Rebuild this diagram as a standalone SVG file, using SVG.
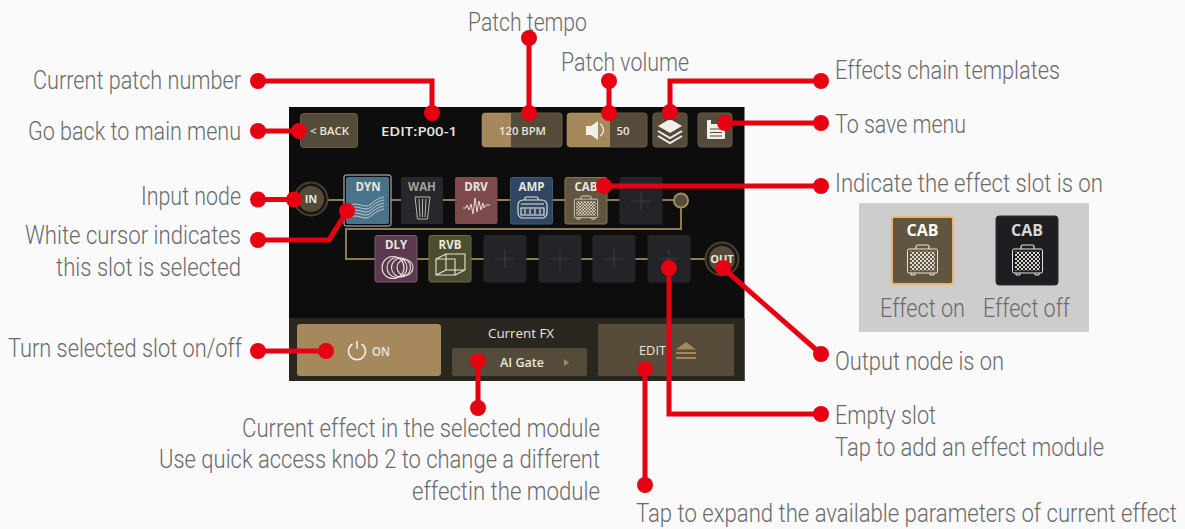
<svg xmlns="http://www.w3.org/2000/svg" width="1185" height="529" viewBox="0 0 1185 529">
<style>
.lb{font-family:Roboto,"Liberation Sans",sans-serif;font-weight:300;font-size:26px;fill:#6a6a6a}
.ui{font-family:"Open Sans","Noto Sans","Liberation Sans",sans-serif;font-weight:600;fill:#e9e6df}
.sl{font-size:11.5px;text-anchor:middle;font-weight:700}
.btn{fill:#544b3a;stroke:#6b5c43;stroke-width:1}
.lit{fill:#a5895c}
.wire{fill:none;stroke:#8f7b55;stroke-width:2}
.red{fill:none;stroke:#e60012;stroke-width:5}
.dot{fill:#e60012}
.ic{fill:none;stroke:#e8e4dc;stroke-width:1.1}
.pl{stroke:#3a3b40;stroke-width:1.2;fill:none}
.empty{fill:#232428;stroke:#26272b}
</style>
<defs>
<pattern id="lat" width="4" height="4" patternUnits="userSpaceOnUse">
<path d="M0 2L2 0L4 2L2 4Z" fill="none" stroke="#ece8e0" stroke-width=".9"/>
</pattern>
<symbol id="cab" viewBox="0 0 31 31" overflow="visible">
<path d="M9 4V1.5Q9 0 11 0H20Q22 0 22 1.5V4" fill="none" stroke="#e8e4dc" stroke-width="1.2"/>
<rect x=".5" y="4" width="30" height="24" rx="1.5" fill="none" stroke="#e8e4dc" stroke-width="1"/>
<rect x="3" y="6.500" width="25" height="19" fill="url(#lat)"/>
<path d="M4 28v2h4v-2M23 28v2h4v-2" fill="none" stroke="#e8e4dc" stroke-width="1"/>
</symbol>
</defs>
<rect id="background" width="1185" height="529" fill="#fafafa"/>
<g id="screen">
<rect x="289" y="107" width="455.500" height="274" fill="#0c0d0c"/>
<rect x="289" y="318" width="455.500" height="63" fill="#2a2721"/>
</g>
<g id="chain-wires">
<path class="wire" d="M326 200H674M681 208V229H346V259H707"/>
</g>
<g id="btn-back">
<rect class="btn" x="300.500" y="113.500" width="57" height="34" rx="3"/>
<text class="ui" x="310" y="135" font-size="10.500" textLength="39" lengthAdjust="spacingAndGlyphs">&lt; BACK</text>
</g>
<g id="patch-number">
<text class="ui" x="381" y="135.500" font-size="12.500" textLength="76" lengthAdjust="spacingAndGlyphs">EDIT:P00-1</text>
</g>
<g id="btn-tempo">
<rect class="btn" x="482" y="113" width="80" height="34" rx="3" stroke="none"/>
<path class="lit" d="M511 113H485a3 3 0 0 0-3 3V144a3 3 0 0 0 3 3H511Z"/>
<text class="ui" x="499" y="135" font-size="11.500" textLength="47" lengthAdjust="spacingAndGlyphs">120 BPM</text>
</g>
<g id="btn-volume">
<rect class="btn" x="567" y="113" width="80" height="34" rx="3"/>
<path class="lit" d="M610 113H570a3 3 0 0 0-3 3V144a3 3 0 0 0 3 3H610Z"/>
<path d="M586 126h5l7-5v19l-7-5h-5Z" fill="#f2efe8"/>
<path d="M600 124a7 7 0 0 1 0 12" fill="none" stroke="#f2efe8" stroke-width="1.300"/>
<text class="ui" x="623" y="135" font-size="11.500" text-anchor="middle">50</text>
</g>
<g id="btn-templates">
<rect class="btn" x="653" y="113" width="34" height="34" rx="3"/>
<path d="M670 119l12 7-12 7-12-7Z" fill="#f2efe8"/>
<path d="M658 131l12 7 12-7M658 136l12 7 12-7" fill="none" stroke="#f2efe8" stroke-width="2"/>
</g>
<g id="btn-save">
<rect class="btn" x="698" y="113" width="34" height="34" rx="3"/>
<path d="M708 120h12l5 4v14a1 1 0 0 1-1 1h-16a1 1 0 0 1-1-1v-17a1 1 0 0 1 1-1Z" fill="#f2efe8"/>
<path d="M710 129h12M710 132.500h12M710 136h12" stroke="#544b3a" stroke-width="1"/>
<rect x="711" y="120" width="7" height="4" fill="#544b3a"/>
</g>
<g id="node-in">
<circle cx="311" cy="199" r="16.500" fill="#1a1712" stroke="#4a4030" stroke-width="2"/>
<circle cx="311" cy="199" r="13" fill="#544b3a"/>
<text class="ui" x="311" y="203" font-size="11" text-anchor="middle" style="font-weight:700">IN</text>
</g>
<g id="slot-dyn">
<rect x="344" y="175" width="47" height="51" rx="2" fill="#0c0d0c" stroke="#c8ccca" stroke-width="1"/>
<rect x="346" y="177" width="43" height="47" rx="2" fill="#4a7288"/>
<text class="ui sl" x="368" y="191">DYN</text>
<path d="M349 206c9-6 15 4 22-2s9-6 13-7M349 209c9-6 15 4 22-2s9-6 13-7M349 212c9-6 15 4 22-2s9-6 13-7M349 215c9-6 15 4 22-2s9-6 13-7M349 218c9-6 15 4 22-2s9-6 13-7" fill="none" stroke="#d5e2e8" stroke-width=".8"/>
</g>
<g id="slot-wah">
<rect x="401" y="177" width="42" height="47" rx="2" fill="#28282c"/>
<text class="ui sl" x="422" y="191" style="fill:#a3a19c">WAH</text>
<path d="M415 197h15l-2.500 22h-10ZM419 199l1 18M422.500 199v18M426 199l-1 18" fill="none" stroke="#b8b6b2" stroke-width="1"/>
</g>
<g id="slot-drv">
<rect x="455" y="177" width="42.500" height="47" rx="2" fill="#7d4b4c"/>
<text class="ui sl" x="476" y="191">DRV</text>
<path d="M463 208h3l1-3 2 5 2-6 2 10 2-16 2 14 2-11 2 9 2-7 1 5 2-3h4" fill="none" stroke="#f0e6e6" stroke-width=".9"/>
</g>
<g id="slot-amp">
<rect x="510.500" y="177.500" width="42" height="46.500" rx="2" fill="#2f4763" stroke="#3e5b7d"/>
<text class="ui sl" x="531.500" y="191">AMP</text>
<path class="ic" d="M525 200v-2q0-1 1-1h11q1 0 1 1v2"/>
<rect class="ic" x="518" y="200" width="29" height="18" rx="5"/>
<rect class="ic" x="521" y="208" width="23" height="7"/>
<path class="ic" d="M521 204h23M525 209v5M530 209v5M535 209v5M540 209v5"/>
</g>
<g id="slot-cab">
<rect x="565" y="177.500" width="42" height="46.500" rx="2" fill="#62553f" stroke="#8b7754"/>
<text class="ui sl" x="586" y="191">CAB</text>
<use href="#cab" x="574" y="196" width="24" height="24"/>
</g>
<g id="slot-empty-1">
<rect class="empty" x="620" y="177.500" width="42" height="46.500" rx="2"/>
<path class="pl" d="M641 192v18M631 201h20"/>
</g>
<g id="chain-end">
<circle cx="681" cy="200.500" r="7" fill="#544b3a" stroke="#a5895c" stroke-width="2"/>
</g>
<g id="slot-dly">
<rect x="375" y="235.500" width="42" height="46.500" rx="2" fill="#5b3a50" stroke="#7d5a72"/>
<text class="ui sl" x="396" y="249">DLY</text>
<circle class="ic" cx="393" cy="267.500" r="11"/><circle class="ic" cx="397" cy="267.500" r="10"/><circle class="ic" cx="401" cy="267.500" r="9.500"/><circle class="ic" cx="405" cy="267.500" r="8"/>
</g>
<g id="slot-rvb">
<rect x="429" y="235.500" width="42" height="46.500" rx="2" fill="#4d4d30" stroke="#6a6b40"/>
<text class="ui sl" x="450" y="249">RVB</text>
<path class="ic" d="M436 259h19v16h-19ZM436 259l10-5h19v16l-10 5M446 254v16h19M446 270l-10 5"/>
</g>
<g id="slot-empty-2"><rect class="empty" x="484" y="235.500" width="42" height="46.500" rx="2"/><path class="pl" d="M505 250v18M495 259h20"/></g>
<g id="slot-empty-3"><rect class="empty" x="539" y="235.500" width="42" height="46.500" rx="2"/><path class="pl" d="M560 250v18M550 259h20"/></g>
<g id="slot-empty-4"><rect class="empty" x="593" y="235.500" width="42" height="46.500" rx="2"/><path class="pl" d="M614 250v18M604 259h20"/></g>
<g id="slot-empty-5"><rect class="empty" x="648" y="235.500" width="42" height="46.500" rx="2"/><path class="pl" d="M669 250v18M659 259h20"/></g>
<g id="node-out">
<circle cx="722" cy="259" r="16.500" fill="#1a1712" stroke="#4a4030" stroke-width="2"/>
<circle cx="722" cy="259" r="13" fill="#544b3a"/>
<text class="ui" x="722" y="263" font-size="11" text-anchor="middle" style="font-weight:700">OUT</text>
</g>
<g id="btn-on">
<rect class="lit" x="297" y="324" width="144" height="52" rx="3"/>
<path d="M352.500 344a8.500 8.500 0 1 0 9 0M357 341v8" fill="none" stroke="#f2efe8" stroke-width="1.500"/>
<text class="ui" x="372" y="355.500" font-size="12.500" textLength="18" lengthAdjust="spacingAndGlyphs">ON</text>
</g>
<g id="current-fx">
<text class="ui" x="488" y="338" font-size="12.500" textLength="66" lengthAdjust="spacingAndGlyphs" style="font-weight:400">Current FX</text>
<rect x="452" y="348" width="135" height="28" rx="2" fill="#544b3a"/>
<text class="ui" x="500" y="366.500" font-size="12.500" textLength="44" lengthAdjust="spacingAndGlyphs">AI Gate</text>
<path class="lit" d="M564 359l5 3.500-5 3.500Z"/>
</g>
<g id="btn-edit">
<rect x="598" y="324" width="136" height="52" rx="2" fill="#574c3a"/>
<text class="ui" x="639" y="355" font-size="12.500" textLength="27" lengthAdjust="spacingAndGlyphs" style="font-weight:400">EDIT</text>
<path class="lit" d="M686 342l10 7.500h-20ZM676 352h20v2h-20ZM676 357h20v2h-20Z"/>
</g>
<g id="legend">
<rect x="859" y="203" width="230" height="129" fill="#cdcdcd"/>
<rect x="892" y="217" width="61" height="67" rx="2" fill="#62553f" stroke="#e9b570" stroke-width="2"/>
<text class="ui" x="922.500" y="236" font-size="16" text-anchor="middle" style="fill:#fff;font-weight:700">CAB</text>
<use href="#cab" x="907" y="245" width="31" height="31"/>
<rect x="996" y="216" width="62" height="69" rx="3" fill="#1e1e22" stroke="#303035" stroke-width="1"/>
<text class="ui" x="1027" y="236" font-size="16" text-anchor="middle" style="fill:#d8d8d8;font-weight:700">CAB</text>
<use href="#cab" x="1012" y="245" width="31" height="31"/>
<text class="lb" x="880" y="317" textLength="85" lengthAdjust="spacingAndGlyphs">Effect on</text>
<text class="lb" x="983" y="317" textLength="87" lengthAdjust="spacingAndGlyphs">Effect off</text>
</g>
<g id="labels">
<text class="lb" x="468" y="31" textLength="119" lengthAdjust="spacingAndGlyphs">Patch tempo</text>
<text class="lb" x="561" y="71" textLength="128" lengthAdjust="spacingAndGlyphs">Patch volume</text>
<text class="lb" x="33" y="88.500" textLength="208" lengthAdjust="spacingAndGlyphs">Current patch number</text>
<text class="lb" x="28" y="139.500" textLength="213" lengthAdjust="spacingAndGlyphs">Go back to main menu</text>
<text class="lb" x="835" y="79" textLength="225" lengthAdjust="spacingAndGlyphs">Effects chain templates</text>
<text class="lb" x="835" y="133" textLength="131" lengthAdjust="spacingAndGlyphs">To save menu</text>
<text class="lb" x="835" y="192" textLength="268" lengthAdjust="spacingAndGlyphs">Indicate the effect slot is on</text>
<text class="lb" x="141" y="205" textLength="100" lengthAdjust="spacingAndGlyphs">Input node</text>
<text class="lb" x="25" y="243.500" textLength="216" lengthAdjust="spacingAndGlyphs">White cursor indicates</text>
<text class="lb" x="56" y="275.500" textLength="185" lengthAdjust="spacingAndGlyphs">this slot is selected</text>
<text class="lb" x="8" y="357" textLength="234" lengthAdjust="spacingAndGlyphs">Turn selected slot on/off</text>
<text class="lb" x="242" y="437" textLength="358" lengthAdjust="spacingAndGlyphs">Current effect in the selected module</text>
<text class="lb" x="159" y="468" textLength="441" lengthAdjust="spacingAndGlyphs">Use quick access knob 2 to change a different</text>
<text class="lb" x="412" y="500" textLength="188" lengthAdjust="spacingAndGlyphs">effectin the module</text>
<text class="lb" x="835" y="370" textLength="169" lengthAdjust="spacingAndGlyphs">Output node is on</text>
<text class="lb" x="835" y="424" textLength="101" lengthAdjust="spacingAndGlyphs">Empty slot</text>
<text class="lb" x="835" y="456" textLength="269" lengthAdjust="spacingAndGlyphs">Tap to add an effect module</text>
<text class="lb" transform="translate(636 522) scale(.852 1)">Tap to expand the available parameters of current effect</text>
</g>
<g id="connectors">
<path class="red" d="M258 81H432V113"/>
<path class="red" d="M258 131H299"/>
<path class="red" d="M529 38V113"/>
<path class="red" d="M609 81V113"/>
<path class="red" d="M670 112V81H821"/>
<path class="red" d="M725 123H821"/>
<path class="red" d="M604 186H821"/>
<path class="red" d="M258 199.500H294"/>
<path class="red" d="M258 240H329L347 211"/>
<path class="red" d="M258 351H326"/>
<path class="red" d="M478 361V408"/>
<path class="red" d="M645 369V485"/>
<path class="red" d="M669 268V414H821"/>
<path class="red" d="M723 268L821 354"/>
<g class="dot">
<circle cx="258" cy="81" r="8"/><circle cx="432" cy="113" r="8"/>
<circle cx="258" cy="131" r="8"/><circle cx="299" cy="131" r="8"/>
<circle cx="529" cy="38" r="8"/><circle cx="529" cy="113" r="8"/>
<circle cx="609" cy="81" r="8"/><circle cx="609" cy="113" r="8"/>
<circle cx="670" cy="112" r="8"/><circle cx="821" cy="81" r="8"/>
<circle cx="725" cy="123" r="8"/><circle cx="821" cy="123" r="8"/>
<circle cx="604" cy="186" r="8"/><circle cx="821" cy="186" r="8"/>
<circle cx="258" cy="199.500" r="8"/><circle cx="294" cy="199.500" r="8"/>
<circle cx="258" cy="240" r="8"/><circle cx="347" cy="211" r="8"/>
<circle cx="258" cy="351" r="8"/><circle cx="326" cy="351" r="8"/>
<circle cx="478" cy="361" r="8"/><circle cx="478" cy="408" r="8"/>
<circle cx="645" cy="369" r="8"/><circle cx="645" cy="485" r="8"/>
<circle cx="669" cy="268" r="8"/><circle cx="821" cy="414" r="8"/>
<circle cx="723" cy="268" r="8"/><circle cx="821" cy="354" r="8"/>
</g>
</g>
</svg>
